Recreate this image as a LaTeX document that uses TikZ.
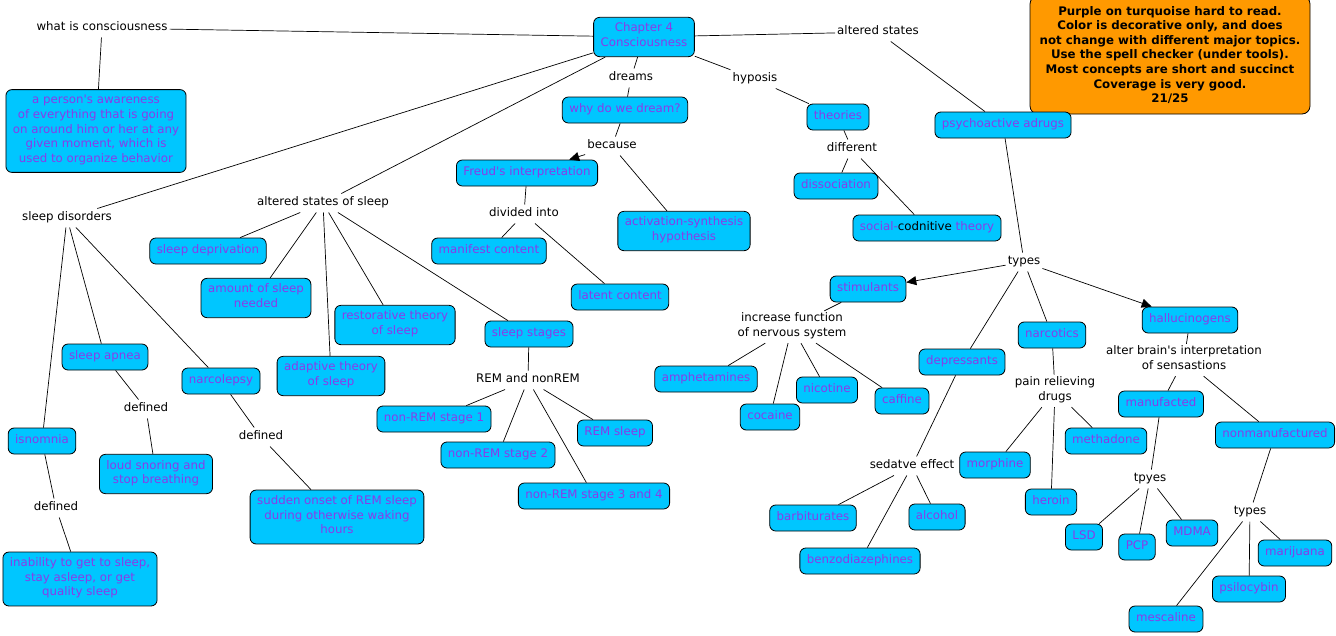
\documentclass[tikz,border=0pt]{standalone}
\usepackage{fontspec}
\setmainfont{DejaVu Sans}[Ligatures=TeXOff]
\usetikzlibrary{arrows.meta}

\definecolor{conceptfill}{HTML}{00C6FF}
\definecolor{concepttext}{HTML}{8A3BE8}
\definecolor{notefill}{HTML}{FF9900}

\begin{document}
\begin{tikzpicture}[x=1pt,y=-1pt,
  every node/.append style={font=\fontsize{11.8}{14.6}\selectfont},
  concept/.style={draw=black, fill=conceptfill, text=concepttext, rounded corners=6pt,
    line width=0.8pt, align=center, inner xsep=7pt, inner ysep=5.7pt,
    execute at begin node=\strut, execute at end node=\strut},
  link/.style={align=center, inner sep=2pt,
    execute at begin node=\strut, execute at end node=\strut},
  note/.style={draw=black, fill=notefill, rounded corners=8pt, line width=0.8pt,
    align=center, inner xsep=6pt, inner ysep=4pt, minimum width=280pt, minimum height=118pt,
    font=\fontsize{11.8}{14.6}\selectfont\bfseries},
  line/.style={line width=0.7pt},
  arrow/.style={line width=0.7pt, -{Triangle[length=10pt,width=9pt]}}]

\useasboundingbox (0,0) rectangle (1336,635);

%% centre and dreams
\node[concept] (chap) at (644,37) {Chapter 4\\Consciousness};
\node[link] (whatis) at (102,28) {what is consciousness};
\node[concept] (aware) at (96,131) {a person's awareness\\of everything that is going\\on around him or her at any\\given moment, which is\\used to organize behavior};
\node[link] (altstates) at (878,32) {altered states};
\node[link] (dreams) at (631,78) {dreams};
\node[concept] (why) at (625,110) {why do we dream?};
\node[link] (hyposis) at (755,79) {hyposis};
\node[concept] (theories) at (838,117) {theories};
\node[link] (because) at (612,146) {because};
\node[concept] (freud) at (527,173) {Freud's interpretation};
\node[concept] (actsyn) at (684,231) {activation-synthesis\\hypothesis};
\node[link] (different) at (852,149) {different};
\node[concept] (dissoc) at (836,186) {dissociation};
\node[concept] (socialcog) at (927,228) {social-{\color{black}codnitive} theory};
\node[link] (divided) at (524,214) {divided into};
\node[concept] (manifest) at (489,251) {manifest content};
\node[concept] (latent) at (620,297) {latent content};

\node[note] (note) at (1170,55) {Purple on turquoise hard to read.\\Color is decorative only, and does\\not change with different major topics.\\Use the spell checker (under tools).\\Most concepts are short and succinct\\Coverage is very good.\\21/25};

%% sleep
\node[link] (sleepdis) at (67,218) {sleep disorders};
\node[link] (altsleep) at (323,203) {altered states of sleep};
\node[concept] (sleepdep) at (208,251) {sleep deprivation};
\node[concept] (amount) at (256,298) {amount of sleep\\needed};
\node[concept] (restor) at (395,325) {restorative theory\\of sleep};
\node[concept] (adaptive) at (331,376) {adaptive theory\\of sleep};
\node[concept] (stages) at (529,334) {sleep stages};
\node[link] (remnon) at (528,380) {REM and nonREM};
\node[concept] (nrone) at (434,419) {non-REM stage 1};
\node[concept] (nrtwo) at (498,455) {non-REM stage 2};
\node[concept] (remsleep) at (615,433) {REM sleep};
\node[concept] (nrthree) at (594,496) {non-REM stage 3 and 4};
\node[concept] (apnea) at (105,357) {sleep apnea};
\node[concept] (narco) at (221,381) {narcolepsy};
\node[link] (defa) at (146,409) {defined};
\node[concept] (loud) at (156,474) {loud snoring and\\stop breathing};
\node[link] (defb) at (261,437) {defined};
\node[concept] (sudden) at (337,517) {sudden onset of REM sleep\\during otherwise waking\\hours};
\node[concept] (insom) at (42,441) {isnomnia};
\node[link] (defc) at (56,508) {defined};
\node[concept] (inability) at (80,579) {inability to get to sleep,\\stay asleep, or get\\quality sleep};

%% drugs
\node[concept] (psycho) at (1003,125) {psychoactive adrugs};
\node[link] (types) at (1024,262) {types};
\node[concept] (stim) at (868,289) {stimulants};
\node[concept] (hallu) at (1190,320) {hallucinogens};
\node[link] (increase) at (792,327) {increase function\\of nervous system};
\node[concept] (amph) at (706,379) {amphetamines};
\node[concept] (cocaine) at (770,417) {cocaine};
\node[concept] (nicotine) at (827,390) {nicotine};
\node[concept] (caffine) at (902,401) {caffine};
\node[concept] (depress) at (962,362) {depressants};
\node[concept] (narcotics) at (1052,335) {narcotics};
\node[link] (painrel) at (1055,391) {pain relieving\\drugs};
\node[link] (sedative) at (912,466) {sedatve effect};
\node[concept] (morphine) at (995,465) {morphine};
\node[concept] (methadone) at (1106,441) {methadone};
\node[concept] (heroin) at (1051,502) {heroin};
\node[concept] (barbit) at (813,518) {barbiturates};
\node[concept] (alcohol) at (937,517) {alcohol};
\node[concept] (benzo) at (860,561) {benzodiazephines};
\node[link] (alter) at (1184,360) {alter brain's interpretation\\of sensastions};
\node[concept] (manuf) at (1161,404) {manufacted};
\node[concept] (nonmanuf) at (1275,435) {nonmanufactured};
\node[link] (tpyes) at (1150,479) {tpyes};
\node[concept] (lsd) at (1084,537) {LSD};
\node[concept] (pcp) at (1137,547) {PCP};
\node[concept] (mdma) at (1192,533) {MDMA};
\node[link] (typesb) at (1250,512) {types};
\node[concept] (marij) at (1295,553) {marijuana};
\node[concept] (psilo) at (1249,589) {psilocybin};
\node[concept] (mesc) at (1166,619) {mescaline};

%% links from the centre
\draw[line] (whatis) -- (chap);
\draw[line] (whatis) -- (aware);
\draw[line] (chap) -- (altstates);
\draw[line] (altstates) -- (psycho);
\draw[line] (chap) -- (dreams);
\draw[line] (dreams) -- (why);
\draw[line] (chap) -- (hyposis);
\draw[line] (hyposis) -- (theories);
\draw[line] (chap) -- (sleepdis);
\draw[line] (chap) -- (altsleep);

%% dreams and hypnosis
\draw[line] (why) -- (because);
\draw[arrow] (because) -- (freud);
\draw[line] (because) -- (actsyn);
\draw[line] (freud) -- (divided);
\draw[line] (divided) -- (manifest);
\draw[line] (divided) -- (latent);
\draw[line] (theories) -- (different);
\draw[line] (different) -- (dissoc);
\draw[line] (different) -- (socialcog);

%% sleep
\draw[line] (altsleep) -- (sleepdep);
\draw[line] (altsleep) -- (amount);
\draw[line] (altsleep) -- (adaptive);
\draw[line] (altsleep) -- (restor);
\draw[line] (altsleep) -- (stages);
\draw[line] (stages) -- (remnon);
\draw[line] (remnon) -- (nrone);
\draw[line] (remnon) -- (nrtwo);
\draw[line] (remnon) -- (nrthree);
\draw[line] (remnon) -- (remsleep);
\draw[line] (sleepdis) -- (insom);
\draw[line] (sleepdis) -- (apnea);
\draw[line] (sleepdis) -- (narco);
\draw[line] (apnea) -- (defa);
\draw[line] (defa) -- (loud);
\draw[line] (narco) -- (defb);
\draw[line] (defb) -- (sudden);
\draw[line] (insom) -- (defc);
\draw[line] (defc) -- (inability);

%% drugs
\draw[line] (psycho) -- (types);
\draw[arrow] (types) -- (stim);
\draw[arrow] (types) -- (hallu);
\draw[line] (types) -- (depress);
\draw[line] (types) -- (narcotics);
\draw[line] (stim) -- (increase);
\draw[line] (increase) -- (amph);
\draw[line] (increase) -- (cocaine);
\draw[line] (increase) -- (nicotine);
\draw[line] (increase) -- (caffine);
\draw[line] (depress) -- (sedative);
\draw[line] (sedative) -- (barbit);
\draw[line] (sedative) -- (benzo);
\draw[line] (sedative) -- (alcohol);
\draw[line] (narcotics) -- (painrel);
\draw[line] (painrel) -- (morphine);
\draw[line] (painrel) -- (heroin);
\draw[line] (painrel) -- (methadone);
\draw[line] (hallu) -- (alter);
\draw[line] (alter) -- (manuf);
\draw[line] (alter) -- (nonmanuf);
\draw[line] (manuf) -- (tpyes);
\draw[line] (tpyes) -- (lsd);
\draw[line] (tpyes) -- (pcp);
\draw[line] (tpyes) -- (mdma);
\draw[line] (nonmanuf) -- (typesb);
\draw[line] (typesb) -- (mesc);
\draw[line] (typesb) -- (psilo);
\draw[line] (typesb) -- (marij);

\end{tikzpicture}
\end{document}
